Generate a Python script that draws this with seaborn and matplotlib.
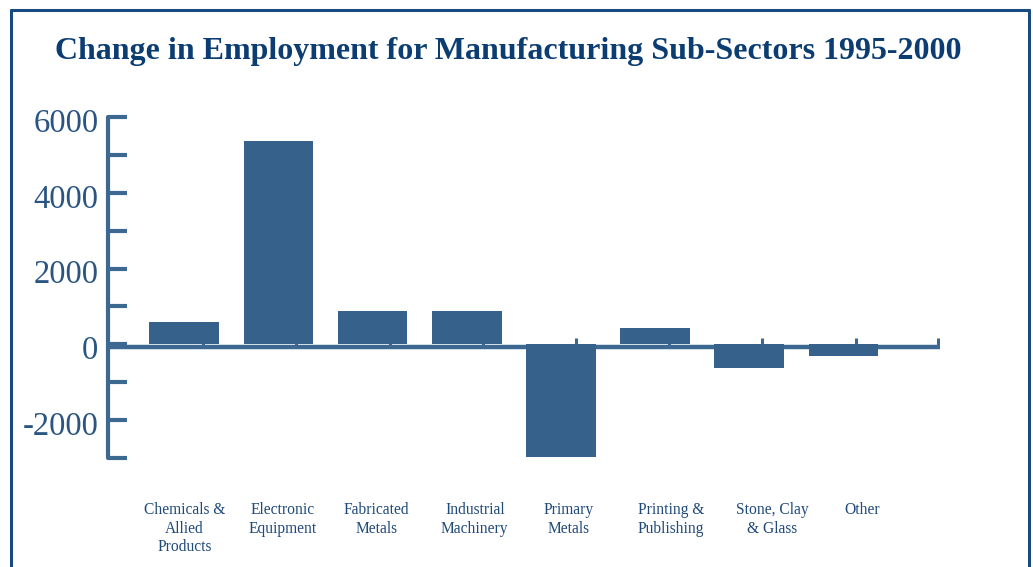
import matplotlib
matplotlib.use("Agg")
import matplotlib.pyplot as plt
import matplotlib.transforms as mtransforms
import seaborn as sns
import pandas as pd
from matplotlib.lines import Line2D

categories = ["Chemicals &\nAllied\nProducts", "Electronic\nEquipment", "Fabricated\nMetals",
              "Industrial\nMachinery", "Primary\nMetals", "Printing &\nPublishing",
              "Stone, Clay\n& Glass", "Other"]
values = [580, 5370, 890, 890, -2980, 420, -630, -310]
yticks = [-2000, 0, 2000, 4000, 6000]
yminor = [-3000, -1000, 1000, 3000, 5000]

sns.set_theme(style="white")
plt.rcParams['font.family'] = ['Liberation Serif', 'DejaVu Serif']

BAR = "#36618B"
AX = "#3D6892"
TXT = "#2A5582"
LBL = "#1F4A7A"
TITLE = "#0C3D72"
FRAME = "#174A80"

fig = plt.figure(figsize=(10.33, 5.67), dpi=100)
ax = fig.add_axes([108/1033, 1 - 458/567, (940-108)/1033, (458-117)/567])

df = pd.DataFrame({"cat": categories, "val": values})
sns.barplot(data=df, x="cat", y="val", color=BAR, saturation=1, width=0.74, ax=ax, zorder=3)
for p in ax.patches:
    p.set_edgecolor("none")

ax.set_xlim(-0.81, 8.025)
ax.set_ylim(-3000, 6000)
ax.set_xlabel("")
ax.set_ylabel("")

for s in ["top", "right", "bottom"]:
    ax.spines[s].set_visible(False)
ax.spines["left"].set_color(AX)
ax.spines["left"].set_linewidth(3)
ax.spines["left"].set_capstyle("round")

ax.set_yticks(yticks)
ax.set_yticks(yminor, minor=True)
ax.tick_params(axis="y", which="both", direction="in", length=14, width=3, color=AX,
               left=True, pad=7)
ax.tick_params(axis="y", labelsize=23.5, labelcolor=TXT)
ax.set_yticklabels([str(v) for v in yticks])
for lab in ax.get_yticklabels():
    lab.set_transform(lab.get_transform() + mtransforms.ScaledTranslation(0, -3 / 100, fig.dpi_scale_trans))

ax.tick_params(axis="x", length=0, pad=32, labelsize=11.2, labelcolor=LBL)
label_shift_px = [0, 4, 4, 8, 8, 16, 23, 19]
for lab, dx in zip(ax.get_xticklabels(), label_shift_px):
    lab.set_transform(lab.get_transform() + mtransforms.ScaledTranslation(dx / 100, 0, fig.dpi_scale_trans))

# zero line with small ticks
off = mtransforms.ScaledTranslation(0, -3 / 100, fig.dpi_scale_trans)
ax.plot([0, 1], [0, 0], color=AX, lw=3.2, zorder=2, solid_capstyle="butt",
        transform=ax.get_yaxis_transform() + off)
tick_pos = [i + 0.2 - 0.01 * i for i in range(len(categories))] + [8.0]
ax.vlines(tick_pos, 0, 250, color=AX, lw=2.2, zorder=2, transform=ax.transData + off)

fig.text(508/1033, 1 - 51/567, "Change in Employment for Manufacturing Sub-Sectors 1995-2000",
         ha="center", va="center", fontsize=23, fontweight="bold", color=TITLE)

# frame
fig.add_artist(Line2D([11/1033, 11/1033], [1 - 10/567, 0], color=FRAME, lw=2.2, transform=fig.transFigure))
fig.add_artist(Line2D([1029/1033, 1029/1033], [1 - 10/567, 0], color=FRAME, lw=2.2, transform=fig.transFigure))
fig.add_artist(Line2D([11/1033, 1029/1033], [1 - 10/567, 1 - 10/567], color=FRAME, lw=2.2, transform=fig.transFigure))

fig.savefig("out.png", dpi=100)
